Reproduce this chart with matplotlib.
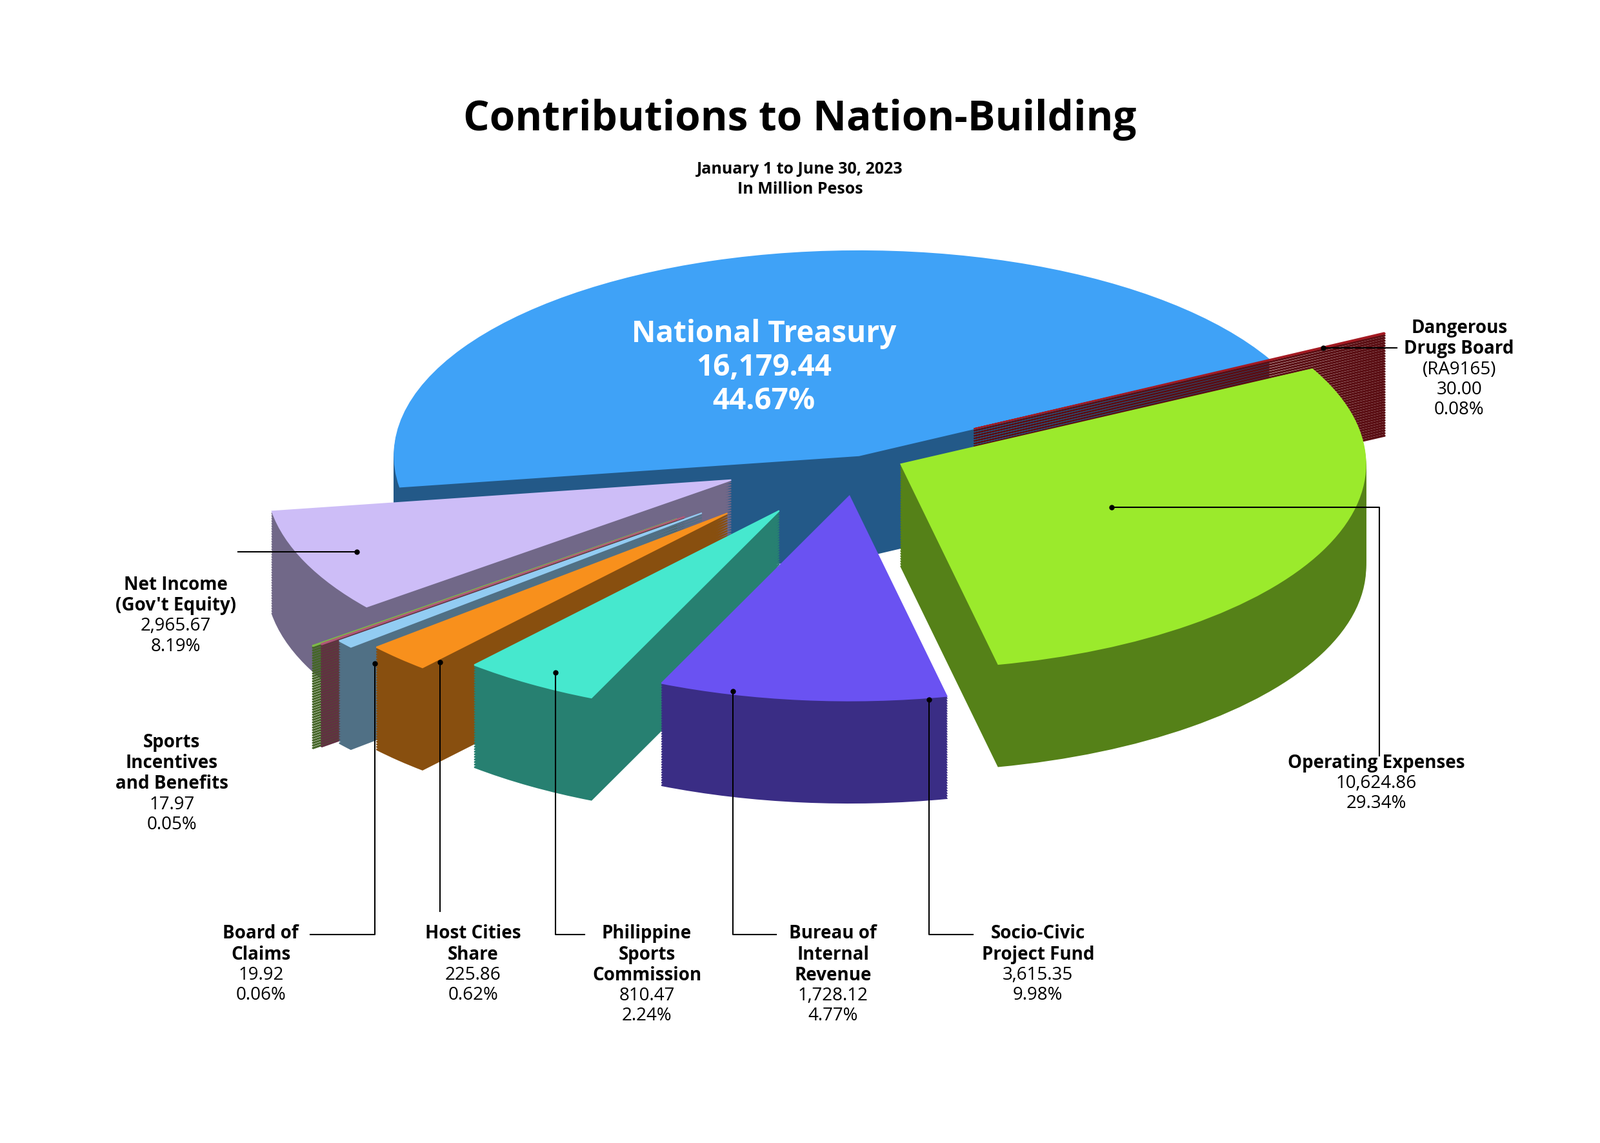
import numpy as np
import matplotlib
matplotlib.use("Agg")
import matplotlib.pyplot as plt
import matplotlib.colors as mc

categories = ["National Treasury", "Net Income (Gov't Equity)", "Sports Incentives and Benefits",
              "Board of Claims", "Host Cities Share", "Philippine Sports Commission",
              "Bureau of Internal Revenue", "Socio-Civic Project Fund", "Operating Expenses",
              "Dangerous Drugs Board (RA9165)"]
values = [16179.44, 2965.67, 17.97, 19.92, 225.86, 810.47, 1728.12, 3615.35, 10624.86, 30.00]
percents = ["44.67%", "8.19%", "0.05%", "0.06%", "0.62%", "2.24%", "4.77%", "9.98%", "29.34%", "0.08%"]
value_labels = ["16,179.44", "2,965.67", "17.97", "19.92", "225.86", "810.47", "1,728.12",
                "3,615.35", "10,624.86", "30.00"]
colors = ["#3FA2F7", "#CDBDF7", "#7DBA48", "#B05878", "#92CCF2", "#F8901C", "#46E8CE",
          "#6A52F2", "#9BEA2C", "#A41A22"]
explode = [0.0, 0.30, 0.50, 0.48, 0.44, 0.40, 0.32, 0.20, 0.10, 0.28]

W, H = 2480, 1771
R_PX, SQ = 720, 0.44
fig = plt.figure(figsize=(W / 100, H / 100), dpi=100)
ax = fig.add_axes([0, 0, 1, 1])
x0 = -830 * 1.604 / R_PX
ytop = 440 * 1.604 / (R_PX * SQ)

def px(x, y):
    s = 1.604
    return x0 + x * s / R_PX, ytop - y * s / (R_PX * SQ)

depth = 0.5
start = 28
side = [mc.to_hex(np.array(mc.to_rgb(c)) * 0.55) for c in colors]

def draw(cols, cy):
    wedges, _ = ax.pie(values, explode=explode, colors=cols, startangle=start, counterclock=True,
                       center=(0, cy), radius=1, frame=False)
    for w in wedges:
        w.set_edgecolor(w.get_facecolor())
        w.set_linewidth(1.5)

for d in np.linspace(depth, 0.01, 40):
    draw(side, -d)
draw(colors, 0)
ax.set_aspect("auto")
ax.set_xlim(x0, x0 + W / R_PX)
ax.set_ylim(ytop - H / (R_PX * SQ), ytop)
ax.axis("off")

tot = sum(values)
cum = np.cumsum([0] + values)
mids = [np.deg2rad(start + 360 * (cum[i] + cum[i + 1]) / 2 / tot) for i in range(len(values))]
def pt(i, r=0.62, down=0.0):
    a = mids[i]
    e = explode[i]
    return (e + r) * np.cos(a), (e + r) * np.sin(a) - down

FONT = "Open Sans"
LS = 0.102
fig.text(0.5, 0.895, "Contributions to Nation-Building", ha="center", va="center",
         fontsize=46, fontweight="bold", family=FONT)
fig.text(0.5, 0.843, "January 1 to June 30, 2023\nIn Million Pesos", ha="center", va="center",
         fontsize=18, fontweight="bold", family=FONT, linespacing=1.3)

tx, ty = px(738, 355)
ax.text(tx, ty, f"{categories[0]}\n{value_labels[0]}\n{percents[0]}", ha="center", va="center",
        color="white", fontsize=33, fontweight="bold", family=FONT, linespacing=1.15)

def label(x, y, title, i, extra=None):
    X, Y = px(x, y)
    ax.text(X, Y, title, ha="center", va="top", fontsize=20, fontweight="bold", family=FONT,
            linespacing=1.15)
    nl = title.count("\n") + 1
    body = f"{value_labels[i]}\n{percents[i]}"
    if extra:
        body = extra + "\n" + body
    ax.text(X, Y - nl * LS, body, ha="center", va="top",
            fontsize=20, family=FONT, linespacing=1.15)

def leader(pts):
    xs = [p[0] for p in pts]; ys = [p[1] for p in pts]
    ax.plot(xs, ys, color="black", lw=1.5, zorder=10)
    ax.plot(xs[0], ys[0], "o", color="black", ms=5, zorder=11)

# Dangerous Drugs Board
p = pt(9, 0.85)
leader([p, (px(1350, 0)[0], p[1])])
label(1410, 308, "Dangerous\nDrugs Board", 9, extra="(RA9165)")
# Operating expenses
p = pt(8, 0.5)
leader([p, (px(1333, 0)[0], p[1]), px(1333, 730)])
label(1330, 728, "Operating Expenses", 8)
# Net income
p = pt(1, 0.88)
leader([p, (px(230, 0)[0], p[1])])
label(170, 556, "Net Income\n(Gov't Equity)", 1)
# Sports incentives
label(166, 708, "Sports\nIncentives\nand Benefits", 2)
# bottom ones
bot = 903
for i, lx, tgt in [(3, 362, 300), (4, 425, None), (5, 537, 565), (6, 708, 750), (7, 898, 940)]:
    p = pt(i, 0.75, down=depth / 2)
    p = (px(lx, 0)[0], p[1])
    if tgt is None:
        leader([p, px(lx, 880)])
    else:
        leader([p, px(lx, bot), px(tgt, bot)])
titles = {3: "Board of\nClaims", 4: "Host Cities\nShare", 5: "Philippine\nSports\nCommission",
          6: "Bureau of\nInternal\nRevenue", 7: "Socio-Civic\nProject Fund"}
for i, tx_ in [(3, 252), (4, 457), (5, 625), (6, 805), (7, 1003)]:
    label(tx_, 893, titles[i], i)

fig.savefig("out.png", dpi=100, facecolor="white")
